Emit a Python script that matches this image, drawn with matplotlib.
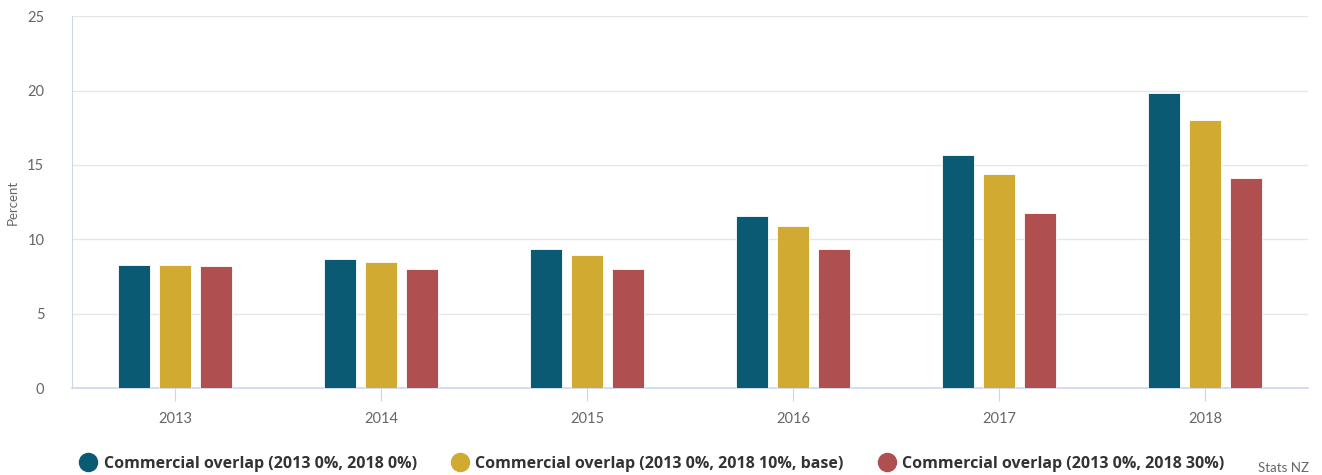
import matplotlib.pyplot as plt
from matplotlib.lines import Line2D
import numpy as np

plt.rcParams['font.family'] = ['Lato', 'DejaVu Sans']

years = ['2013', '2014', '2015', '2016', '2017', '2018']
overlap_0 = [8.3, 8.7, 9.35, 11.6, 15.65, 19.85]
overlap_10 = [8.3, 8.5, 8.95, 10.9, 14.4, 18.0]
overlap_30 = [8.2, 8.0, 8.0, 9.35, 11.75, 14.15]
series_names = ['Commercial overlap (2013 0%, 2018 0%)',
                'Commercial overlap (2013 0%, 2018 10%, base)',
                'Commercial overlap (2013 0%, 2018 30%)']
colors = ['#0b5a73', '#d1aa31', '#af4f50']

fig = plt.figure(figsize=(13.22, 4.75), dpi=100)
ax = fig.add_axes([0.0545, 0.183, 0.935, 0.783])

x = np.arange(len(years))
for i, vals in enumerate([overlap_0, overlap_10, overlap_30]):
    ax.bar(x + (i - 1) * 0.2, vals, width=0.155, color=colors[i],
           edgecolor='white', linewidth=0.6, zorder=3)

ax.set_xlim(-0.5, 5.5)
ax.set_ylim(0, 25)
ax.set_yticks([0, 5, 10, 15, 20, 25])
ax.set_xticks(x)
ax.set_xticklabels(years)
ax.grid(axis='y', color='#e6e6e6', linewidth=1, zorder=0)
for s in ['top', 'right']:
    ax.spines[s].set_visible(False)
ax.spines['left'].set_color('#ccd6eb')
ax.spines['bottom'].set_color('#ccd6eb')
ax.spines['bottom'].set_linewidth(1.2)
ax.tick_params(axis='y', length=0, pad=20, labelsize=10.5, labelcolor='#666666')
ax.tick_params(axis='x', length=9, color='#ccd6eb', pad=8, labelsize=10.5,
               labelcolor='#666666')
ax.set_ylabel('Percent', fontsize=9.5, color='#666666', labelpad=6)

handles = [Line2D([], [], marker='o', linestyle='none', markersize=13,
                  markerfacecolor=c, markeredgecolor=c) for c in colors]
fig.legend(handles, series_names, loc='center left',
           bbox_to_anchor=(0.050, 0.024), ncol=3, frameon=False,
           prop={'family': 'Open Sans', 'weight': 'bold', 'size': 11.5},
           labelcolor='#333333',
           handletextpad=0.45, columnspacing=2.2, handlelength=1.0)
fig.text(0.99, 0.015, 'Stats NZ', ha='right', va='center', fontsize=9.5,
         color='#666666')

fig.savefig('out.png', dpi=100)
